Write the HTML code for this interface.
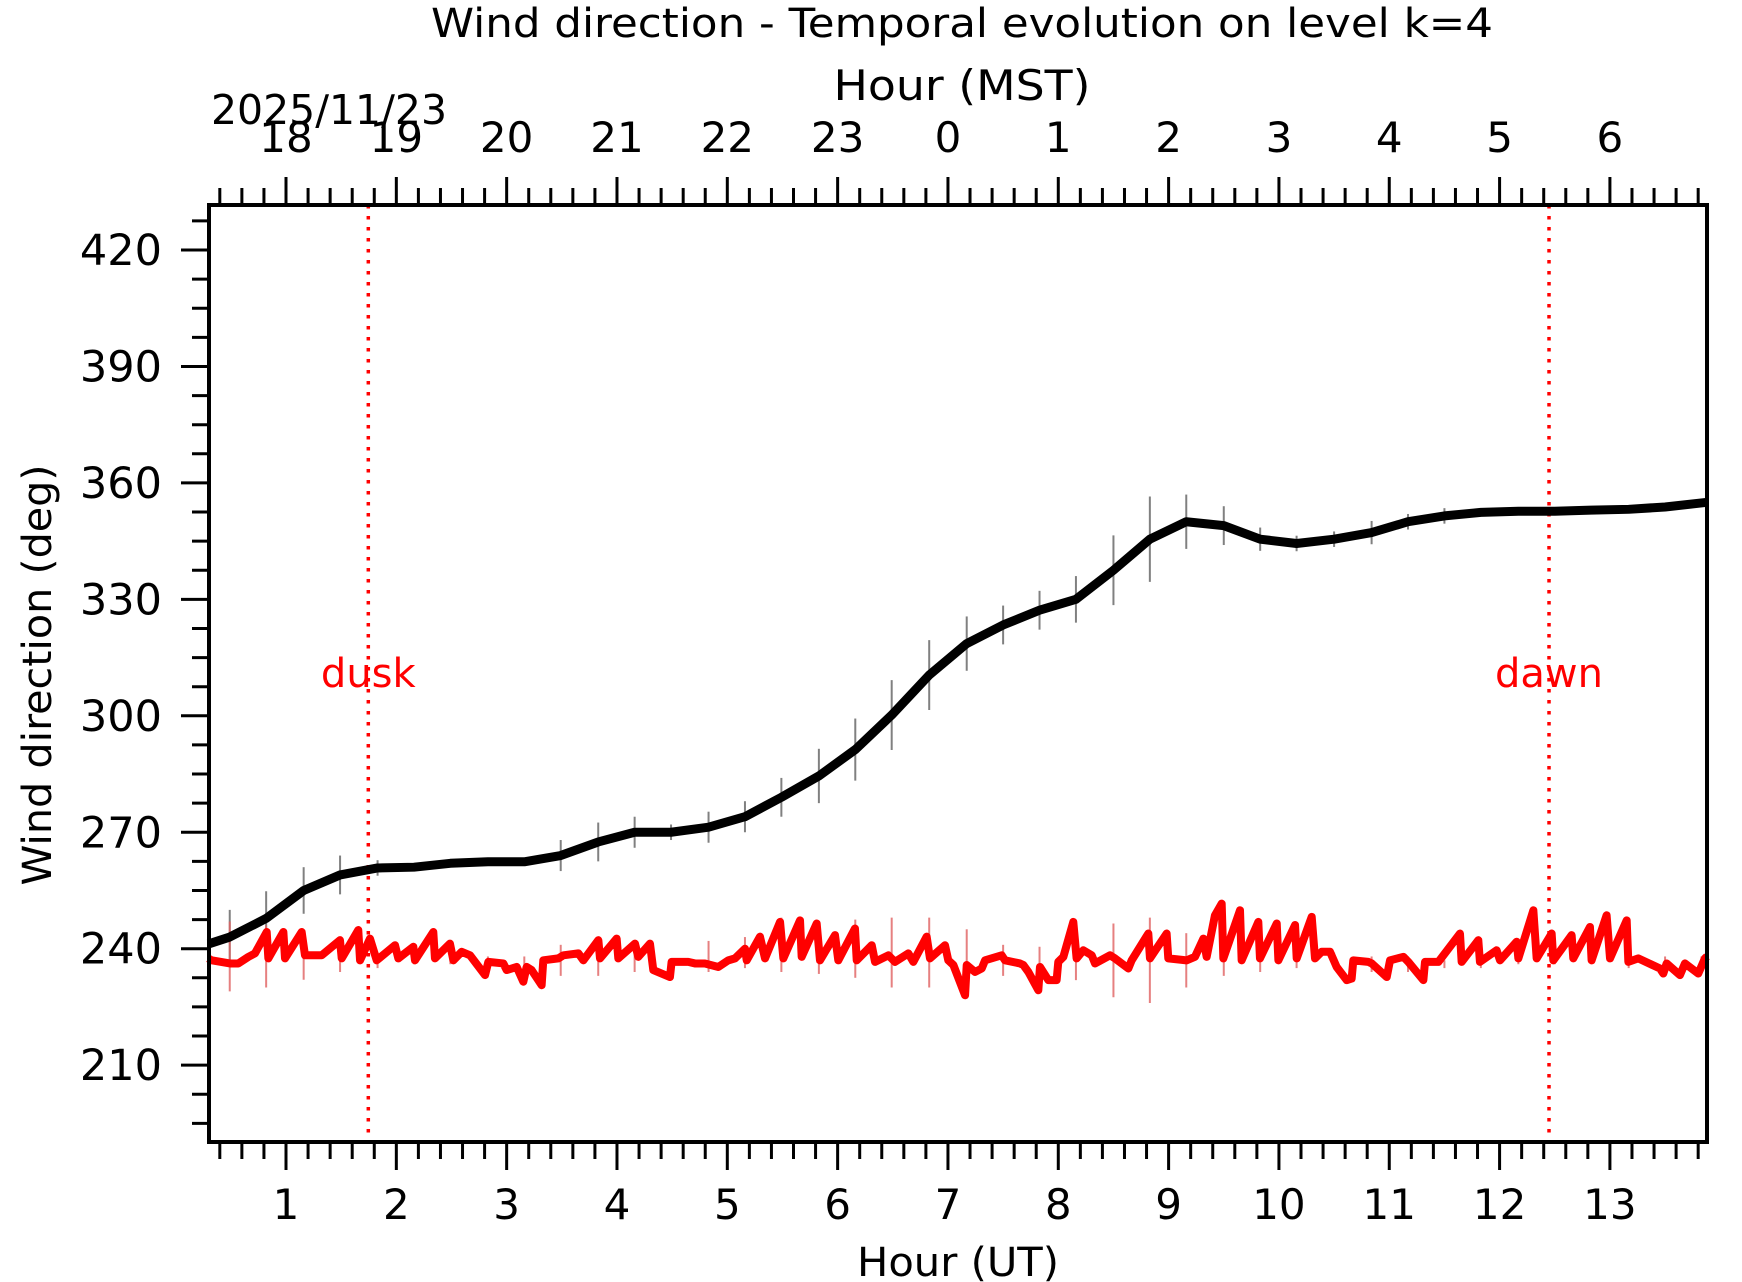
<!DOCTYPE html>
<html><head><meta charset="utf-8"><style>
html,body{margin:0;padding:0;background:#fff;}
svg{display:block;font-family:"DejaVu Sans","Liberation Sans",sans-serif;}
</style></head><body>
<svg id="chart" width="1742" height="1282" viewBox="0 0 1742 1282" xmlns="http://www.w3.org/2000/svg">
<rect width="1742" height="1282" fill="#fff"/>
<text x="962" y="37" font-size="40" text-anchor="middle" textLength="1062" lengthAdjust="spacingAndGlyphs">Wind direction - Temporal evolution on level k=4</text>
<text x="962" y="100" font-size="42" text-anchor="middle" textLength="257" lengthAdjust="spacingAndGlyphs">Hour (MST)</text>
<text x="211" y="124" font-size="41" textLength="236" lengthAdjust="spacingAndGlyphs">2025/11/23</text>
<text x="958" y="1276" font-size="40" text-anchor="middle" textLength="202" lengthAdjust="spacingAndGlyphs">Hour (UT)</text>
<text transform="translate(51,675) rotate(-90)" font-size="40" text-anchor="middle" textLength="421" lengthAdjust="spacingAndGlyphs">Wind direction (deg)</text>
<g id="plot"></g>
</svg>
<script>
const utTicks=[1,2,3,4,5,6,7,8,9,10,11,12,13];
const mstLabels=["18","19","20","21","22","23","0","1","2","3","4","5","6"];
const yTicks=[210,240,270,300,330,360,390,420];
const blackT=[0.295,0.49,0.82,1.16,1.49,1.83,2.16,2.49,2.83,3.16,3.49,3.83,4.16,4.49,4.83,5.16,5.49,5.83,6.16,6.49,6.83,7.17,7.50,7.83,8.16,8.50,8.83,9.16,9.50,9.83,10.16,10.50,10.84,11.17,11.50,11.83,12.17,12.50,12.83,13.17,13.50,13.88];
const blackV=[241.2,243,247.8,255,259,260.8,261,262,262.4,262.4,264,267.5,270,270,271.3,274,279,284.5,291.3,300.2,310.5,318.6,323.4,327.2,330,337.5,345.5,350,349,345.5,344.4,345.5,347.2,350,351.5,352.4,352.7,352.7,353,353.2,353.8,355];
const blackErr=[0,7,7,6,5,2,1,1,1,1,4,5,4,2,4,4,5,7,8,9,9,7,5,5,6,9,11,7,5,3,2,2,3,2,2,1,1,1,1,1,1,0];
const redT=[0.295,0.326,0.492,0.568,0.659,0.719,0.825,0.840,0.976,0.991,1.142,1.172,1.323,1.489,1.505,1.655,1.671,1.761,1.822,1.988,2.018,2.154,2.169,2.335,2.350,2.486,2.517,2.592,2.668,2.804,2.834,2.970,3.000,3.091,3.151,3.181,3.226,3.317,3.332,3.468,3.514,3.650,3.695,3.831,3.846,3.997,4.012,4.163,4.193,4.299,4.329,4.480,4.495,4.646,4.707,4.797,4.919,5.009,5.070,5.160,5.176,5.296,5.342,5.478,5.508,5.659,5.674,5.810,5.840,5.976,6.006,6.157,6.173,6.309,6.339,6.460,6.520,6.641,6.686,6.807,6.837,6.973,7.003,7.049,7.155,7.170,7.245,7.306,7.336,7.487,7.517,7.653,7.683,7.729,7.819,7.834,7.910,7.985,8.000,8.046,8.136,8.166,8.227,8.303,8.333,8.469,8.514,8.635,8.665,8.816,8.831,8.982,8.997,9.164,9.239,9.315,9.345,9.420,9.481,9.496,9.647,9.662,9.813,9.828,9.980,9.995,10.146,10.161,10.297,10.327,10.387,10.463,10.523,10.614,10.659,10.674,10.810,10.841,10.977,11.007,11.128,11.173,11.309,11.324,11.445,11.641,11.656,11.807,11.822,11.973,12.004,12.155,12.170,12.306,12.336,12.472,12.487,12.653,12.668,12.819,12.834,12.970,13.001,13.152,13.167,13.257,13.454,13.484,13.514,13.635,13.680,13.801,13.861,13.88];
const redV=[237.5,237.0,236.2,236.2,237.9,238.8,244.3,237.5,244.3,237.5,244.3,238.3,238.3,242.2,237.5,244.8,237.0,242.6,237.0,240.9,237.5,240.5,237.0,244.3,237.5,241.3,237.0,239.2,238.3,233.2,236.6,236.2,234.5,235.3,231.5,235.3,234.5,230.6,237.0,237.5,238.3,238.8,237.0,242.2,237.5,242.6,237.5,241.3,237.9,241.3,234.5,232.7,236.6,236.6,236.2,236.2,235.3,237.0,237.5,240.0,237.0,243.1,237.5,246.9,237.5,247.3,237.9,246.5,237.0,243.5,237.0,245.2,237.0,240.9,236.6,238.3,236.6,238.8,236.6,243.1,237.5,240.9,237.0,235.8,228.0,235.8,234.0,234.9,237.0,238.3,237.0,236.2,235.8,234.0,229.3,235.3,231.9,231.9,236.6,237.9,246.9,237.5,239.6,238.3,236.2,238.3,237.5,234.9,237.0,243.9,237.5,243.9,237.5,237.0,237.9,242.6,237.9,248.6,251.6,237.5,249.9,237.0,246.9,237.5,246.5,237.0,246.1,237.5,248.2,237.5,239.2,239.2,235.3,231.9,232.3,237.0,236.6,236.2,232.7,237.0,237.9,236.6,231.9,236.6,236.6,243.9,236.6,242.2,236.6,239.6,237.0,241.8,237.5,249.9,237.5,243.9,237.0,243.5,237.5,245.6,237.0,248.6,237.5,247.3,236.6,237.5,234.9,233.6,236.2,233.2,236.2,233.6,237.5,238];
const redErrT=[0.49,0.82,1.16,1.49,1.83,2.16,2.49,2.83,3.16,3.49,3.83,4.16,4.49,4.83,5.16,5.49,5.83,6.16,6.49,6.83,7.17,7.50,7.83,8.16,8.50,8.83,9.16,9.50,9.83,10.16,10.50,10.84,11.17,11.50,11.83,12.17,12.50,12.83,13.17,13.50,13.83];
const redErrC=[238,238,238,238,237,238,238,236,235,237,238,238,235,238,239,241,240,240,239,239,237.5,237,234.9,236.9,237,237,237,242,240,239,237,236,236,236,237,238,238,238,237,236,236];
const redErrE=[9,8,6,4,2,2,2,2,3,4,5,4,1,4,4,7,6.5,7.5,9,9,7.5,4,5.6,5,9.5,11,7,9,6,4,2,2,2,1,2,2,2,2,2,2,2];
const duskDawnT=[1.746,12.448];
const duskDawnLabels=["dusk","dawn"];

const L=209,R=1707,T=205,B=1142;
const X0=0.302,X1=13.88,Y0=190.2,Y1=431.6;
const sx=t=>L+(t-X0)/(X1-X0)*(R-L);
const sy=v=>B-(v-Y0)/(Y1-Y0)*(B-T);
const NS="http://www.w3.org/2000/svg";
const g=document.getElementById('plot');
function mk(tag,attrs,parent){const e=document.createElementNS(NS,tag);for(const k in attrs)e.setAttribute(k,attrs[k]);(parent||g).appendChild(e);return e;}

const gbe=mk('g',{});


blackT.forEach((t,i)=>{if(!blackErr[i])return;const l=mk('line',{x1:sx(t),x2:sx(t),y1:sy(blackV[i]-blackErr[i]),y2:sy(blackV[i]+blackErr[i]),stroke:'#808080','stroke-width':2},gbe);

});
const gre=mk('g',{});


redErrT.forEach((t,i)=>{const l=mk('line',{x1:sx(t),x2:sx(t),y1:sy(redErrC[i]-redErrE[i]),y2:sy(redErrC[i]+redErrE[i]),stroke:'#e06060','stroke-opacity':0.8,'stroke-width':2},gre);

});

duskDawnT.forEach((t,i)=>{const l=mk('line',{x1:sx(t),x2:sx(t),y1:T,y2:B,stroke:'#ff0000','stroke-width':3.5,'stroke-dasharray':'3.5 7.5'});


const tx=mk('text',{x:sx(t),y:sy(311)+14,'font-size':40,'text-anchor':'middle',fill:'#ff0000'});tx.textContent=duskDawnLabels[i];

});

const bl=mk('polyline',{points:blackT.map((t,i)=>sx(t)+','+sy(blackV[i])).join(' '),fill:'none',stroke:'#000','stroke-width':9,'stroke-linejoin':'round'});


const rl=mk('polyline',{points:redT.map((t,i)=>sx(t)+','+sy(redV[i])).join(' '),fill:'none',stroke:'#ff0000','stroke-width':8,'stroke-linejoin':'round'});



const fr=mk('rect',{x:L,y:T,width:R-L,height:B-T,fill:'none',stroke:'#000','stroke-width':4});



for(let k=Math.ceil(X0*5);k<=Math.floor(X1*5);k++){const t=k/5;const major=k%5===0;const len=major?28:17;
 const a=mk('line',{x1:sx(t),x2:sx(t),y1:B,y2:B+len,stroke:'#000','stroke-width':3});
 
 
 const b=mk('line',{x1:sx(t),x2:sx(t),y1:T,y2:T-len,stroke:'#000','stroke-width':3});
 
 }
utTicks.forEach((t,i)=>{const a=mk('text',{x:sx(t),y:1219,'font-size':42,'text-anchor':'middle'});a.textContent=String(t);
 
 
 const b=mk('text',{x:sx(t),y:152,'font-size':42,'text-anchor':'middle'});b.textContent=mstLabels[i];
 
 });
for(let v=195;v<=Y1;v+=7.5){const major=(v%30)===0;const len=major?28:17;
 const a=mk('line',{x1:L,x2:L-len,y1:sy(v),y2:sy(v),stroke:'#000','stroke-width':3});
 
 }
yTicks.forEach(v=>{const a=mk('text',{x:162,y:sy(v)+15,'font-size':43,'text-anchor':'end'});a.textContent=String(v);
 
 });
</script>
</body></html>
